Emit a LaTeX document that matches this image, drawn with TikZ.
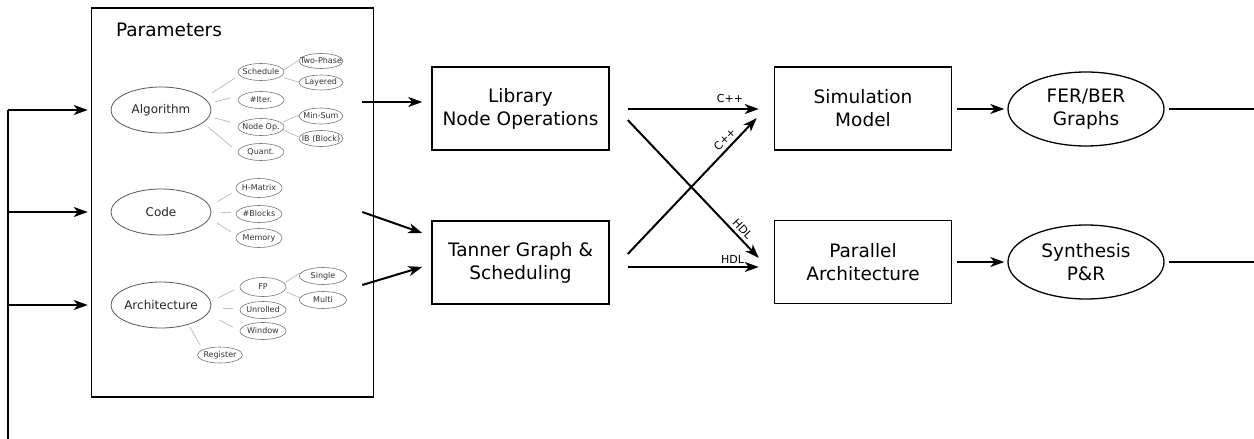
\documentclass[tikz,border=0pt]{standalone}
\usepackage{fontspec}
\setmainfont{DejaVu Sans}
\usetikzlibrary{arrows.meta,calc,shapes.geometric}
\newcommand\zb[1]{\makebox[0pt]{#1}}
\newcommand\mainfs{\fontsize{18.5}{23}\selectfont}
\begin{document}
\begin{tikzpicture}[x=1pt,y=-1pt,
  box/.style={draw, line width=1.5pt, minimum width=177pt, minimum height=83pt, align=center, font=\mainfs, inner sep=0pt},
  bigout/.style={ellipse, draw, line width=1.3pt, minimum width=156pt, minimum height=74pt, inner sep=0pt, align=center, font=\mainfs},
  pell/.style={ellipse, draw=black!65, line width=0.8pt, minimum width=100pt, minimum height=46pt, inner sep=0pt, font=\fontsize{12}{14}\selectfont, text=black!85},
  sell/.style={ellipse, draw=black!55, line width=0.6pt, minimum width=46pt, minimum height=17pt, inner sep=0pt, font=\fontsize{8}{9}\selectfont, text=black!80},
  gline/.style={draw=black!25, line width=0.8pt},
  arr/.style={line width=2pt, -{Stealth[length=14pt,width=10pt,inset=4pt]}},
  plain/.style={line width=1.5pt},
  lbl/.style={font=\fontsize{11}{12}\selectfont, inner sep=0.5pt}]
\useasboundingbox (0,0) rectangle (1254,439);
% parameters box
\node[draw, line width=1.5pt, minimum width=282pt, minimum height=389pt, inner sep=0pt] (params) at (232.5,202.5) {};
\node[font=\mainfs] (ptitle) at (169,30) {Parameters};
% big ellipses
\node[pell] (alg) at (161,110) {\zb{Algorithm}};
\node[pell] (code) at (161,212) {\zb{Code}};
\node[pell] (arch) at (161,305) {\zb{Architecture}};
% small ellipses
\node[sell] (sch) at (261,72) {\zb{Schedule}};
\node[sell, minimum width=44pt, minimum height=15pt] (two) at (321,61) {\zb{Two-Phase}};
\node[sell, minimum width=44pt, minimum height=15pt] (lay) at (321,82.5) {\zb{Layered}};
\node[sell] (iter) at (261,100) {\zb{\#Iter.}};
\node[sell] (nop) at (261,127) {\zb{Node Op.}};
\node[sell, minimum width=44pt, minimum height=16pt] (msum) at (321,116) {\zb{Min-Sum}};
\node[sell, minimum width=44pt, minimum height=16pt] (ib) at (321,138.5) {\zb{IB (Block)}};
\node[sell] (qua) at (261,152) {\zb{Quant.}};
\node[sell, minimum height=19pt] (hmat) at (259,188) {\zb{H-Matrix}};
\node[sell] (blk) at (259,214) {\zb{\#Blocks}};
\node[sell, minimum height=19pt] (mem) at (259,238) {\zb{Memory}};
\node[sell, minimum height=19pt] (fp) at (263,287) {\zb{FP}};
\node[sell, minimum width=47pt] (sgl) at (323,276) {\zb{Single}};
\node[sell, minimum width=47pt] (mul) at (323,300) {\zb{Multi}};
\node[sell] (unr) at (263,310) {\zb{Unrolled}};
\node[sell] (win) at (263,331) {\zb{Window}};
\node[sell, minimum width=45pt, minimum height=16pt] (reg) at (220,355) {\zb{Register}};
% grey links
\draw[gline] ($(alg)+(51,-17)$) -- ($(sch)+(-26,6)$);
\draw[gline] ($(alg)+(54,-8)$) -- ($(iter)+(-31,-2)$);
\draw[gline] ($(alg)+(54,8)$) -- ($(nop)+(-31,-5)$);
\draw[gline] ($(alg)+(47,17)$) -- ($(qua)+(-29,-5)$);
\draw[gline] ($(sch)+(23,-2)$) -- ($(two)+(-22,-1)$);
\draw[gline] ($(sch)+(24,6)$) -- ($(lay)+(-21,0)$);
\draw[gline] ($(nop)+(22,-5)$) -- ($(msum)+(-22,-1)$);
\draw[gline] ($(nop)+(22,3)$) -- ($(ib)+(-21,-1)$);
\draw[gline] ($(code)+(56,-10)$) -- ($(hmat)+(-27,5)$);
\draw[gline] ($(code)+(60,0)$) -- ($(blk)+(-28,-2)$);
\draw[gline] ($(code)+(56,11)$) -- ($(mem)+(-28,-6)$);
\draw[gline] ($(arch)+(57,-7)$) -- ($(fp)+(-29,3)$);
\draw[gline] ($(arch)+(62,3)$) -- ($(unr)+(-30,-2)$);
\draw[gline] ($(arch)+(58,15)$) -- ($(win)+(-30,-4)$);
\draw[gline] ($(arch)+(29,22)$) -- ($(reg)+(-20,-10)$);
\draw[gline] ($(fp)+(23,-5)$) -- ($(sgl)+(-23,-3)$);
\draw[gline] ($(fp)+(24,5)$) -- ($(mul)+(-23,-2)$);
% main boxes
\node[box] (lib) at (520.5,108.5) {Library\\Node Operations};
\node[box] (tan) at (520.5,262.5) {Tanner Graph \&\\Scheduling};
\node[box] (sim) at (863,108.5) {Simulation\\Model};
\node[box] (par) at (863,262) {Parallel\\Architecture};
\node[bigout] (fer) at (1086,109) {FER/BER\\Graphs};
\node[bigout] (syn) at (1086,262) {Synthesis\\P\&R};
% feedback
\coordinate (fb) at (8,439);
\coordinate (redge) at (1254,0);
\draw[plain] (fb) -- (fb |- alg);
\draw[arr] (fb |- alg) -- ($(params.west |- alg)+(-3,0)$);
\draw[arr] (fb |- code) -- ($(params.west |- code)+(-3,0)$);
\draw[arr] (fb |- arch) -- ($(params.west |- arch)+(-3,0)$);
% params to boxes
\draw[arr] ($(params.east |- lib.west)+(-12,-6.5)$) -- ($(lib.west)+(-9,-6.5)$);
\draw[arr] ($(params.east |- code)+(-12,0)$) -- ($(tan.west)+(-9,-29.5)$);
\draw[arr] ($(params.east)+(-12,82.5)$) -- ($(tan.west)+(-9,4.5)$);
% crossing
\draw[arr] ($(lib.east)+(18,0.5)$) -- node[lbl, pos=0.78, above=5pt] {C++} ($(sim.west)+(-15,0.5)$);
\draw[arr] ($(lib.east)+(18,11.5)$) -- node[lbl, sloped, pos=0.83, above=3pt] {HDL} ($(par.west)+(-15,-4)$);
\draw[arr] ($(tan.east)+(18,-8.5)$) -- node[lbl, sloped, pos=0.8, above=3pt] {C++} ($(sim.west)+(-17,9.5)$);
\draw[arr] ($(tan.east)+(18,4.5)$) -- node[lbl, pos=0.8, above=2pt] {HDL} ($(par.west)+(-15,5)$);
% outputs
\draw[arr] ($(sim.east)+(5,0.5)$) -- ($(fer.west)+(-3,0)$);
\draw[arr] ($(par.east)+(5,0)$) -- ($(syn.west)+(-3,0)$);
\draw[plain] ($(fer.east)+(4,0)$) -- (fer.east -| redge);
\draw[plain] ($(syn.east)+(4,0)$) -- (syn.east -| redge);
\end{tikzpicture}
\end{document}
